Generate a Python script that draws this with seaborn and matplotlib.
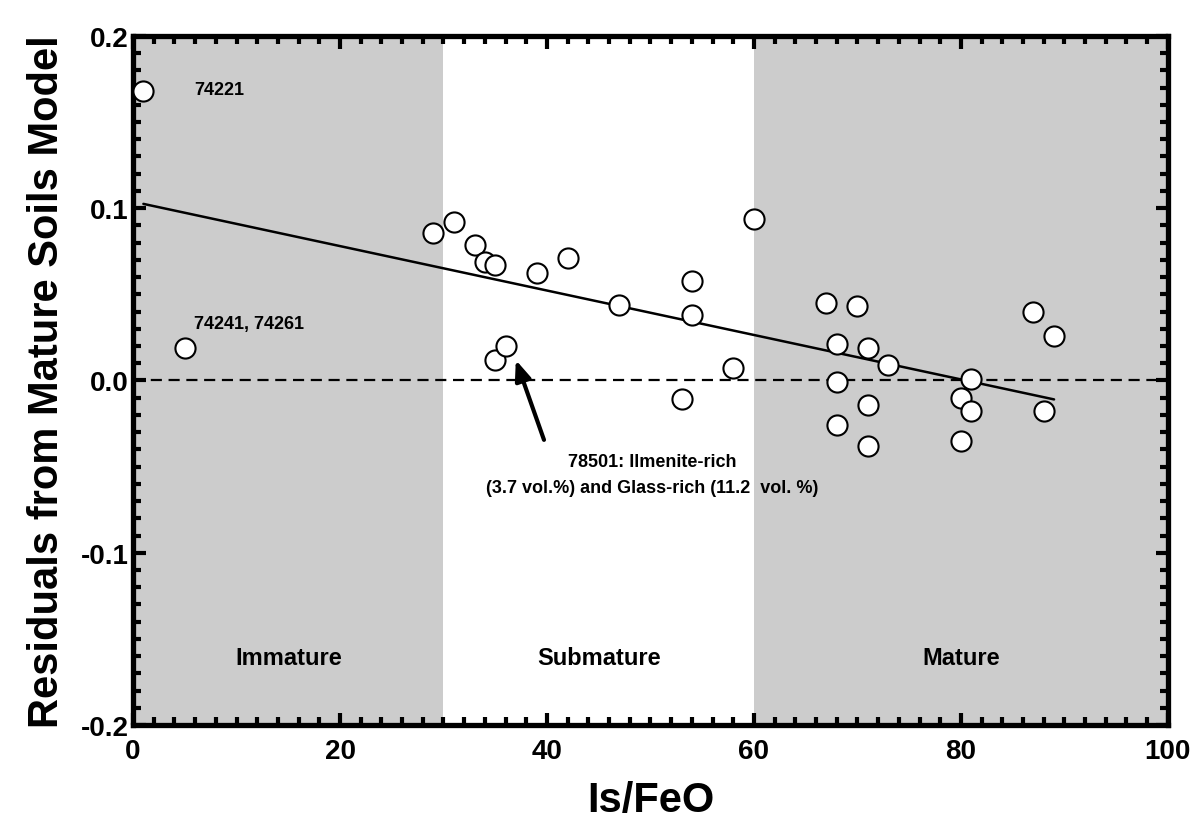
import matplotlib
matplotlib.use("Agg")
import matplotlib.pyplot as plt
from matplotlib.ticker import MultipleLocator
import seaborn as sns
import pandas as pd

# ---- data ----
is_feo = [1, 5, 29, 31, 33, 34, 35, 35, 36, 39, 42, 47, 53, 54, 54, 58, 60,
          67, 70, 68, 71, 73, 68, 71, 68, 71, 81, 80, 81, 80, 87, 89, 88]
residual = [0.168, 0.019, 0.0855, 0.092, 0.0787, 0.069, 0.067, 0.012, 0.020,
            0.0624, 0.071, 0.044, -0.011, 0.058, 0.038, 0.007, 0.094,
            0.045, 0.043, 0.021, 0.019, 0.009, -0.001, -0.014, -0.026, -0.038,
            0.001, -0.010, -0.018, -0.035, 0.040, 0.026, -0.018]
fit_x = [1, 89]
fit_y = [0.1025, -0.011]
zones = ["Immature", "Submature", "Mature"]
zone_start = [0, 30, 60]
zone_end = [30, 60, 100]
zone_shaded = [True, False, True]
zone_label_x = [15, 45, 80]
xticks = [0, 20, 40, 60, 80, 100]
yticks = [-0.2, -0.1, 0.0, 0.1, 0.2]
ytick_labels = ["-0.2", "-0.1", "0.0", "0.1", "0.2"]

sns.set_theme(style="white")
plt.rcParams['font.family'] = ['Liberation Sans', 'DejaVu Sans']
plt.rcParams['font.weight'] = 'bold'
plt.rcParams['text.color'] = 'black'
plt.rcParams['axes.labelcolor'] = 'black'
plt.rcParams['xtick.color'] = 'black'
plt.rcParams['ytick.color'] = 'black'

fig = plt.figure(figsize=(12.04, 8.2), dpi=100)
ax = fig.add_axes([0.1105, 0.1146, 0.8595, 0.8404])

for s, e, sh, lab, lx in zip(zone_start, zone_end, zone_shaded, zones, zone_label_x):
    if sh:
        ax.axvspan(s, e, color="#cccccc", lw=0, zorder=0)
    ax.text(lx, -0.161, lab, ha="center", va="center", fontsize=17,
            fontweight="bold", color="black")

ax.axhline(0, color="black", lw=1.6, ls=(0, (5, 3)), zorder=1)

df_fit = pd.DataFrame({"x": fit_x, "y": fit_y})
sns.lineplot(data=df_fit, x="x", y="y", ax=ax, color="black", lw=1.8, zorder=2)

df = pd.DataFrame({"x": is_feo, "y": residual})
sns.scatterplot(data=df, x="x", y="y", ax=ax, s=210, color="white",
                edgecolor="black", linewidth=1.5, zorder=3, clip_on=False)

ax.text(5.9, 0.169, "74221", ha="left", va="center", fontsize=13, fontweight="bold")
ax.text(5.9, 0.033, "74241, 74261", ha="left", va="center", fontsize=13, fontweight="bold")
ax.annotate("", xy=(36.9, 0.0134), xytext=(39.8, -0.036),
            arrowprops=dict(arrowstyle="-|>,head_length=1.0,head_width=0.4",
                            color="black", lw=3))
ax.text(50.2, -0.047, "78501: Ilmenite-rich", ha="center", va="center",
        fontsize=13, fontweight="bold")
ax.text(50.2, -0.062, "(3.7 vol.%) and Glass-rich (11.2  vol. %)", ha="center",
        va="center", fontsize=13, fontweight="bold")

ax.set_xlim(0, 100)
ax.set_ylim(-0.2, 0.2)
ax.set_xticks(xticks)
ax.set_xticklabels([str(t) for t in xticks], fontsize=20, fontweight="bold")
ax.set_yticks(yticks)
ax.set_yticklabels(ytick_labels, fontsize=20, fontweight="bold")
ax.xaxis.set_minor_locator(MultipleLocator(2))
ax.yaxis.set_minor_locator(MultipleLocator(0.01))
ax.tick_params(which="both", direction="in", top=True, right=True,
               bottom=True, left=True, color="black", width=3)
ax.tick_params(which="major", length=9)
ax.tick_params(which="minor", length=6)
ax.tick_params(axis="x", which="major", pad=9)
ax.tick_params(axis="y", which="major", pad=3)

for sp in ax.spines.values():
    sp.set_visible(True)
    sp.set_color("black")
    sp.set_linewidth(3.8)

ax.set_xlabel("Is/FeO", fontsize=30, fontweight="bold", labelpad=12)
ax.set_ylabel("Residuals from Mature Soils Model", fontsize=30, fontweight="bold",
              labelpad=10)
ax.grid(False)

fig.savefig("out.png", dpi=100)
